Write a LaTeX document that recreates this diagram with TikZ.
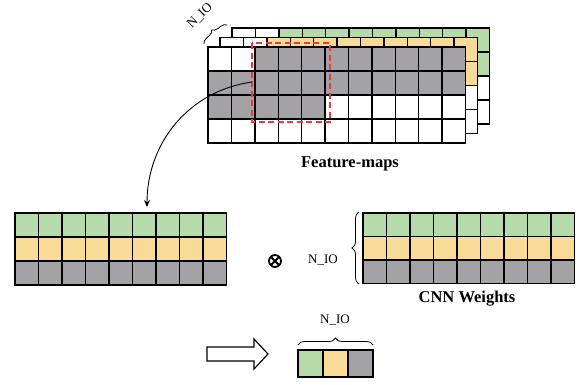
\documentclass[tikz,border=0pt]{standalone}
\usepackage{amsmath,bm}
\usepackage{fontspec}
\setmainfont{Liberation Serif}
\usepackage{tikz}
\usetikzlibrary{arrows.meta,calc,positioning,decorations.pathreplacing}
\definecolor{fmgreen}{RGB}{183,218,170}
\definecolor{fmyellow}{RGB}{247,219,150}
\definecolor{fmgray}{RGB}{164,162,167}
\definecolor{fmred}{RGB}{236,58,58}
\tikzset{cell/.style={draw,line width=1.4pt,line join=miter},
  caption/.style={font=\fontsize{16.5}{18}\selectfont\bfseries},
  nio/.style={font=\fontsize{13}{15}\selectfont,inner sep=1pt},
  brc/.style={decorate,decoration={brace,amplitude=#1},line width=0.8pt},
  brc/.default=7pt,
  arr/.style={-{Stealth[length=7pt,width=6pt]},line width=0.9pt},
  optimes/.style={circle,draw,line width=1.8pt,minimum size=12pt,inner sep=0pt,
    path picture={\draw[line width=1.8pt]
      (path picture bounding box.north west) -- (path picture bounding box.south east)
      (path picture bounding box.north east) -- (path picture bounding box.south west);}}}

\begin{document}
\begin{tikzpicture}[x=1pt,y=1pt]
\useasboundingbox (0,0) rectangle (582,-384);
% feature-map stack, back to front
\foreach \dx/\dy/\col in {24/19/fmgreen,12/9.5/fmyellow,0/0/fmgray}{
  \foreach \r in {0,...,3}{\foreach \c in {0,...,10}{
    \pgfmathtruncatemacro\on{(\r==1)||(\r==0&&\c>1)||(\r==2&&\c<5)}
    \ifnum\on=1 \def\fc{\col}\else\def\fc{white}\fi
    \draw[cell,fill=\fc] (208+\dx+\c*23.4,-47+\dy-\r*24) rectangle ++(23.4,-24);
  }}}
\draw[fmred,dash pattern=on 6pt off 3.5pt,line width=1.5pt] (252,-43) rectangle (330,-122);
\coordinate (pick) at (252,-82);
\draw[brc=6pt] (204,-44) -- (227,-25);
\node[nio,rotate=45] (nio1) at (200,-16) {N\_IO};
\node[caption] (fmlbl) at (350,-164) {Feature-maps};

% flattened maps and weights
\foreach \r/\col in {0/fmgreen,1/fmyellow,2/fmgray}{\foreach \c in {0,...,8}{
  \draw[cell,fill=\col] (15+\c*23.5,-213-\r*24) rectangle ++(23.5,-24);
  \draw[cell,fill=\col] (363+\c*23.5,-213-\r*23.5) rectangle ++(23.5,-23.5);}}
\coordinate (lmtop) at (147,-207);
\draw[arr] (pick) to[out=188,in=90] (lmtop);
\node[optimes] (otimes) at (275,-261) {};
\node[nio,anchor=east] (nio2) at (339,-260) {N\_IO};
\draw[brc] (359,-284) -- (359,-212);
\node[caption] (cnnlbl) at (467,-299) {CNN Weights};

% result
\draw[line width=1.2pt] (207,-347) -- (254,-347) -- (254,-339) -- (268,-354)
  -- (254,-369) -- (254,-361) -- (207,-361) -- cycle;
\foreach \c/\col in {0/fmgreen,1/fmyellow,2/fmgray}
  \draw[cell,fill=\col] (298+\c*25,-350) rectangle ++(25,-27);
\draw[brc] (298,-345) -- (373,-345);
\node[nio] (nio3) at (335,-320) {N\_IO};
\end{tikzpicture}
\end{document}
